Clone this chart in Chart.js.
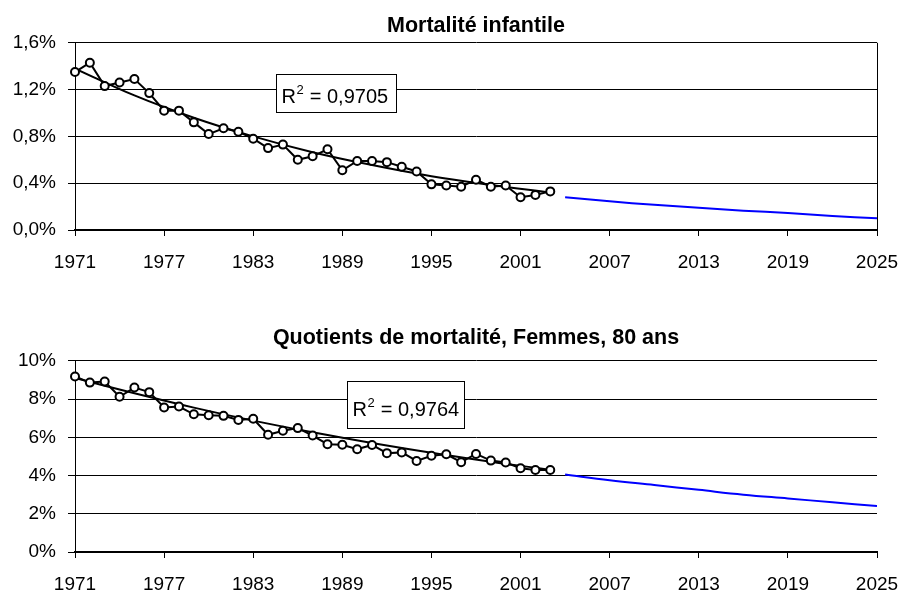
<!DOCTYPE html>
<html>
<head>
<meta charset="utf-8">
<script src="https://cdn.jsdelivr.net/npm/chart.js@4.4.0/dist/chart.umd.min.js"></script>
<style>
  html, body { margin: 0; padding: 0; background: #fff; }
  #wrap { position: relative; width: 900px; height: 591px; }
  .box { position: absolute; left: 0; width: 900px; }
</style>
</head>
<body>
<div id="wrap">
  <div class="box" style="top:0;height:300px"><canvas id="chart-0" width="900" height="300"></canvas></div>
  <div class="box" style="top:300px;height:291px"><canvas id="chart-1" width="900" height="291"></canvas></div>
</div>
<script>
/* observed years */
var years = [1971, 1972, 1973, 1974, 1975, 1976, 1977, 1978, 1979, 1980, 1981,
             1982, 1983, 1984, 1985, 1986, 1987, 1988, 1989, 1990, 1991, 1992,
             1993, 1994, 1995, 1996, 1997, 1998, 1999, 2000, 2001, 2002, 2003];

/* Mortalité infantile, % */
var infantile = [1.35, 1.43, 1.23, 1.26, 1.29, 1.17, 1.02, 1.02, 0.92, 0.82, 0.87,
                 0.84, 0.78, 0.70, 0.73, 0.60, 0.63, 0.69, 0.51, 0.59, 0.59, 0.58,
                 0.54, 0.50, 0.39, 0.38, 0.37, 0.43, 0.37, 0.38, 0.28, 0.30, 0.33];

/* Quotients de mortalité, Femmes, 80 ans, % */
var femmes80 = [9.18, 8.86, 8.92, 8.12, 8.60, 8.36, 7.56, 7.61, 7.20, 7.15, 7.12,
                6.91, 6.97, 6.13, 6.34, 6.48, 6.09, 5.64, 5.61, 5.37, 5.60, 5.17,
                5.21, 4.76, 5.03, 5.11, 4.70, 5.13, 4.78, 4.68, 4.38, 4.29, 4.29];

/* trend lines */
var trendYears = [1971, 1975, 1979, 1983, 1987, 1991, 1995, 1999, 2003];
var infantileTrend = [1.38, 1.15, 0.96, 0.80, 0.665, 0.555, 0.46, 0.385, 0.32];
var femmes80Trend = [9.10, 8.30, 7.55, 6.87, 6.26, 5.70, 5.19, 4.72, 4.30];

/* projections (blue) */
var forecastYears = [2004, 2007, 2010, 2013, 2016, 2019, 2022, 2025];
var infantileForecast = [0.28, 0.245, 0.215, 0.19, 0.165, 0.145, 0.12, 0.10];
var femmes80Forecast = [4.05, 3.75, 3.50, 3.25, 3.00, 2.80, 2.60, 2.40];

/* tick labels */
var xTicks = [1971, 1977, 1983, 1989, 1995, 2001, 2007, 2013, 2019, 2025];
var infantileTicks = [0, 0.4, 0.8, 1.2, 1.6];
var femmes80Ticks = [0, 2, 4, 6, 8, 10];

var FONT = "'Liberation Sans', Arial, sans-serif";

function pts(xs, ys) {
  var out = [];
  for (var i = 0; i < xs.length; i++) {
    out.push({ x: xs[i], y: ys[i] });
  }
  return out;
}

/* R² box + optional right frame line */
var extras = {
  id: "extras",
  afterDatasetsDraw: function (chart, args, opts) {
    var ctx = chart.ctx;
    var a = chart.chartArea;
    ctx.save();
    if (opts.frame) {
      ctx.strokeStyle = "#000";
      ctx.lineWidth = 1;
      ctx.beginPath();
      ctx.moveTo(Math.round(a.right) + 0.5, a.top);
      ctx.lineTo(Math.round(a.right) + 0.5, a.bottom);
      ctx.stroke();
    }
    if (opts.text) {
      var x = Math.round(chart.scales.x.getPixelForValue(opts.x)) + 0.5;
      var y = Math.round(chart.scales.y.getPixelForValue(opts.y)) + 0.5;
      var w = opts.w, h = opts.h;
      ctx.fillStyle = "#fff";
      ctx.fillRect(x, y, w, h);
      ctx.strokeStyle = "#000";
      ctx.lineWidth = 1;
      ctx.strokeRect(x, y, w, h);
      ctx.fillStyle = "#000";
      ctx.textBaseline = "alphabetic";
      ctx.textAlign = "left";
      var tx = x + 5, ty = y + h - opts.base;
      ctx.font = "20px " + FONT;
      ctx.fillText("R", tx, ty);
      var rw = ctx.measureText("R").width;
      ctx.font = "13px " + FONT;
      ctx.fillText("2", tx + rw + 0.5, ty - 9);
      var sw = ctx.measureText("2").width;
      ctx.font = "20px " + FONT;
      ctx.fillText(" = " + opts.text, tx + rw + sw + 1, ty);
    }
    ctx.restore();
  }
};

function makeChart(id, cfg) {
  var ctx = document.getElementById(id);
  return new Chart(ctx, {
    type: "line",
    data: {
      datasets: [
        {
          data: pts(years, cfg.values),
          borderColor: "#000",
          borderWidth: 2,
          pointRadius: 4,
          pointBackgroundColor: "#fff",
          pointBorderColor: "#000",
          pointBorderWidth: 2,
          tension: 0,
          clip: false,
        },
        {
          data: pts(trendYears, cfg.trend),
          borderColor: "#000",
          borderWidth: 2,
          pointRadius: 0,
          tension: 0.4,
        },
        {
          data: pts(forecastYears, cfg.forecast),
          borderColor: "#0000ff",
          borderWidth: 2,
          pointRadius: 0,
          tension: 0.4,
        },
      ],
    },
    options: {
      responsive: false,
      animation: false,
      layout: { padding: { left: 10, right: 23, top: 0, bottom: cfg.padBottom } },
      plugins: {
        legend: { display: false },
        tooltip: { enabled: false },
        title: {
          display: true,
          fullSize: false,
          text: cfg.title,
          color: "#000",
          font: { family: FONT, size: 21.5, weight: "bold" },
          padding: { top: cfg.titleTop, bottom: cfg.titleBottom },
        },
        extras: cfg.box,
      },
      scales: {
        x: {
          type: "linear",
          min: 1971,
          max: 2025,
          afterBuildTicks: function (s) {
            s.ticks = xTicks.map(function (v) { return { value: v }; });
          },
          afterFit: function (s) {
            s.height = cfg.xHeight;
            s.paddingLeft = 0;
            s.paddingRight = 0;
          },
          grid: { display: true, drawOnChartArea: false, drawTicks: true, tickLength: 6, color: "#000", lineWidth: 1 },
          border: { display: true, color: "#000", width: 2 },
          ticks: {
            color: "#000",
            padding: 15,
            maxRotation: 0,
            autoSkip: false,
            font: { family: FONT, size: 19 },
            callback: function (v) { return String(v); },
          },
        },
        y: {
          min: cfg.ticks[0],
          max: cfg.ticks[cfg.ticks.length - 1],
          afterBuildTicks: function (s) {
            s.ticks = cfg.ticks.map(function (v) { return { value: v }; });
          },
          afterFit: function (s) { s.width = 65; },
          grid: { color: "#000", lineWidth: 1, drawTicks: true, tickLength: 7 },
          border: { display: true, color: "#000", width: 1 },
          ticks: {
            color: "#000",
            padding: 12,
            autoSkip: false,
            font: { family: FONT, size: 19 },
            callback: cfg.fmt,
          },
        },
      },
    },
    plugins: [extras],
  });
}

makeChart("chart-0", {
  title: "Mortalité infantile",
  values: infantile,
  trend: infantileTrend,
  forecast: infantileForecast,
  ticks: infantileTicks,
  fmt: function (v) { return v.toFixed(1).replace(".", ",") + "%"; },
  titleTop: 13,
  titleBottom: 4,
  xHeight: 45,
  padBottom: 25,
  box: { frame: true, text: "0,9705", x: 1984.5, y: 1.33, w: 120, h: 38, base: 10 },
});

makeChart("chart-1", {
  title: "Quotients de mortalité, Femmes, 80 ans",
  values: femmes80,
  trend: femmes80Trend,
  forecast: femmes80Forecast,
  ticks: femmes80Ticks,
  fmt: function (v) { return v + "%"; },
  titleTop: 25,
  titleBottom: 10,
  xHeight: 39,
  padBottom: 0,
  box: { frame: false, text: "0,9764", x: 1989.3, y: 8.95, w: 117, h: 47, base: 13 },
});
</script>
</body>
</html>
